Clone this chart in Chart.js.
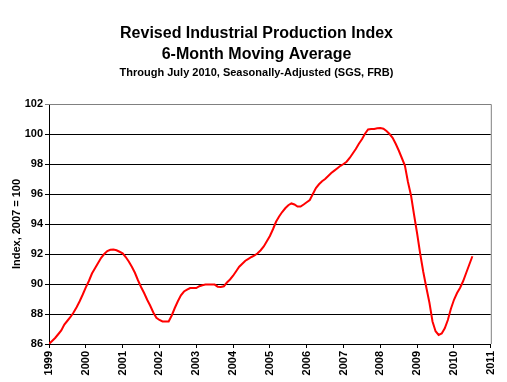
<!DOCTYPE html>
<html>
<head>
<meta charset="utf-8">
<script src="https://cdn.jsdelivr.net/npm/chart.js@4"></script>
<style>
  html, body { margin: 0; padding: 0; background: #fff; }
  canvas { display: block; }
</style>
</head>
<body>
<canvas id="ipChart" width="507" height="382"></canvas>
<script>
  // Monthly 6-month moving average, Jan 1999 .. Jul 2010
  var startYear = 1999;
  var ipValues = [
    86.0, 86.2, 86.4, 86.65, 86.9, 87.3, 87.55, 87.8, 88.1, 88.45, 88.85, 89.3,
    89.78, 90.2, 90.7, 91.05, 91.4, 91.75, 92.0, 92.2, 92.28, 92.3, 92.25, 92.15,
    92.05, 91.8, 91.5, 91.15, 90.75, 90.25, 89.8, 89.4, 88.95, 88.55, 88.1, 87.75,
    87.6, 87.5, 87.5, 87.5, 87.9, 88.4, 88.85, 89.25, 89.5, 89.62, 89.73, 89.73,
    89.73, 89.85, 89.92, 89.96, 89.96, 89.96, 89.96, 89.82, 89.8, 89.85, 90.1, 90.3,
    90.55, 90.85, 91.15, 91.35, 91.55, 91.68, 91.8, 91.9, 92.05, 92.25, 92.5, 92.85,
    93.2, 93.65, 94.15, 94.5, 94.8, 95.05, 95.25, 95.37, 95.3, 95.16, 95.16, 95.3,
    95.45, 95.6, 96.0, 96.4, 96.65, 96.85, 97.0, 97.2, 97.4, 97.56, 97.72, 97.88,
    98.0, 98.15, 98.4, 98.7, 99.0, 99.35, 99.65, 100.02, 100.3, 100.33, 100.33, 100.38,
    100.4, 100.35, 100.2, 100.0, 99.75, 99.35, 98.9, 98.4, 97.9, 96.8, 95.9, 94.6,
    93.35, 92.0, 90.8, 89.75, 88.75, 87.5, 86.85, 86.6, 86.7, 87.05, 87.6, 88.35,
    88.95, 89.4, 89.75, 90.2, 90.75, 91.3, 91.85
  ];
  var yearTicks = [1999, 2000, 2001, 2002, 2003, 2004, 2005, 2006, 2007, 2008, 2009, 2010, 2011];
  var yTicks = [86, 88, 90, 92, 94, 96, 98, 100, 102];

  var FONT = "'Liberation Sans', Arial, sans-serif";

  var points = ipValues.map(function (v, i) { return { x: startYear + i / 12, y: v }; });

  // grey frame on top / right of the plot area, like the Excel plot border
  var plotFrame = {
    id: 'plotFrame',
    afterDraw: function (chart) {
      var a = chart.chartArea, ctx = chart.ctx;
      ctx.save();
      ctx.strokeStyle = '#808080';
      ctx.lineWidth = 1;
      ctx.beginPath();
      ctx.moveTo(a.left, a.top + 0.5);
      ctx.lineTo(a.right + 0.5, a.top + 0.5);
      ctx.lineTo(a.right + 0.5, a.bottom);
      ctx.stroke();
      ctx.restore();
    }
  };

  new Chart(document.getElementById('ipChart').getContext('2d'), {
    type: 'line',
    data: {
      datasets: [{
        data: points,
        yAxisID: 'y',
        borderColor: '#ff0000',
        borderWidth: 2,
        pointRadius: 0,
        tension: 0,
        fill: false
      }]
    },
    options: {
      responsive: false,
      animation: false,
      layout: { padding: { left: 6, right: 0, top: 0, bottom: 0 } },
      plugins: {
        legend: { display: false },
        tooltip: { enabled: false },
        title: {
          display: true,
          text: ['Revised Industrial Production Index', '6-Month Moving Average'],
          color: '#000',
          font: { family: FONT, size: 16, weight: 'bold', lineHeight: 1.3125 },
          padding: { top: 23.5, bottom: 0 }
        },
        subtitle: {
          display: true,
          text: 'Through July 2010, Seasonally-Adjusted (SGS, FRB)',
          color: '#000',
          font: { family: FONT, size: 11, weight: 'bold', lineHeight: 1.2 },
          padding: { top: 1, bottom: 24.3 }
        }
      },
      scales: {
        x: {
          type: 'linear',
          min: yearTicks[0],
          max: yearTicks[yearTicks.length - 1],
          afterBuildTicks: function (s) { s.ticks = yearTicks.map(function (v) { return { value: v }; }); },
          afterFit: function (s) { s.height = 38; },
          grid: { drawOnChartArea: false, drawTicks: true, tickLength: 4, color: '#000' },
          border: { color: '#000' },
          ticks: {
            autoSkip: false,
            minRotation: 90,
            maxRotation: 90,
            padding: 3,
            color: '#000',
            font: { family: FONT, size: 11, weight: 'bold' },
            callback: function (v) { return String(v); }
          }
        },
        y: {
          position: 'left',
          min: yTicks[0],
          max: yTicks[yTicks.length - 1],
          afterBuildTicks: function (s) { s.ticks = yTicks.map(function (v) { return { value: v }; }); },
          afterFit: function (s) { s.width = 43; },
          grid: {
            tickLength: 4,
            color: function (c) { return c.tick && c.tick.value === 102 ? '#808080' : '#000'; }
          },
          border: { color: '#000' },
          ticks: {
            padding: 2,
            color: '#000',
            font: { family: FONT, size: 11, weight: 'bold' },
            callback: function (v) { return String(v); }
          },
          title: {
            display: true,
            text: 'Index, 2007 = 100',
            color: '#000',
            font: { family: FONT, size: 11, weight: 'bold' },
            padding: { top: 4, bottom: 0 }
          }
        },
        // empty right-hand margin (keeps the titles centred like the original)
        yRight: {
          position: 'right',
          min: yTicks[0],
          max: yTicks[yTicks.length - 1],
          afterFit: function (s) { s.width = 11; },
          grid: { display: false },
          border: { display: false },
          ticks: { display: false }
        }
      }
    },
    plugins: [plotFrame]
  });
</script>
</body>
</html>
